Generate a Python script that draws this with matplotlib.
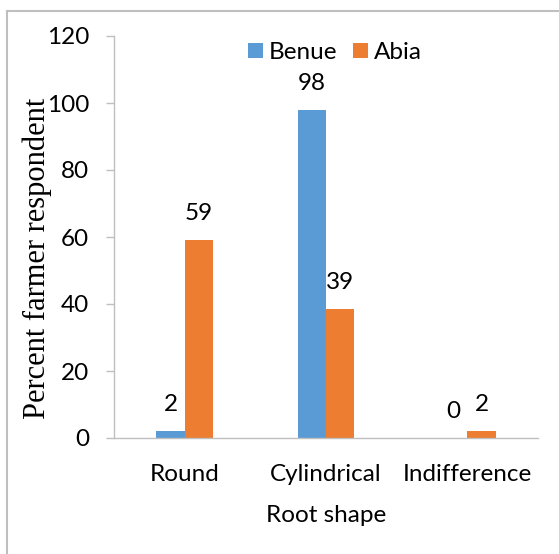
import matplotlib
matplotlib.use("Agg")
import matplotlib.pyplot as plt
from matplotlib.lines import Line2D
import numpy as np

categories = ["Round", "Cylindrical", "Indifference"]
series_names = ["Benue", "Abia"]
benue = [2, 98, 0]
abia = [59, 38.6, 2]
yticks = [0, 20, 40, 60, 80, 100, 120]
xlabel = "Root shape"
ylabel = "Percent farmer respondent"

colors = ["#5B9BD5", "#ED7D31"]
sans = ["Lato", "DejaVu Sans"]
serif = ["Liberation Serif", "DejaVu Serif"]
fs = 17.5

W, H = 559, 554
fig = plt.figure(figsize=(W / 100, H / 100), dpi=100)
ax = fig.add_axes([114 / W, 1 - 438 / H, (538 - 114) / W, (438 - 36) / H])

x = np.arange(len(categories))
bw = 0.2
for i, (vals, name) in enumerate(zip([benue, abia], series_names)):
    ax.bar(x + (i - 0.5) * bw, vals, width=bw, color=colors[i], label=name,
           edgecolor="none")
    for xi, v in zip(x + (i - 0.5) * bw, vals):
        ax.annotate(f"{v:.0f}", (xi, v), xytext=(0, 19), textcoords="offset points",
                    ha="center", va="center", fontsize=fs, family=sans, color="black")

ax.set_xlim(-0.5, 2.5)
ax.set_ylim(0, 120)
ax.set_yticks(yticks)
ax.set_xticks(x)
ax.set_xticklabels(categories, family=sans, fontsize=fs)
ax.set_yticklabels([str(t) for t in yticks], family=sans, fontsize=fs)
ax.tick_params(axis="x", length=0, pad=19)
ax.tick_params(axis="y", length=5.8, width=1, color="#BFBFBF", pad=12)

for s in ["top", "right"]:
    ax.spines[s].set_visible(False)
for s in ["left", "bottom"]:
    ax.spines[s].set_color("#BFBFBF")
    ax.spines[s].set_linewidth(1)

ax.set_xlabel(xlabel, family=sans, fontsize=fs, labelpad=14)
fig.text(37 / W, 1 - 258 / H, ylabel, rotation=90, ha="center", va="center",
         family=serif, fontsize=22)

ax.legend(loc="center", bbox_to_anchor=((335 - 114) / 424, (438 - 52.5) / 402),
          ncol=2, frameon=False, prop={"family": sans, "size": fs},
          handlelength=0.62, handleheight=0.62, handletextpad=0.25,
          columnspacing=0.65, borderpad=0)

# outer chart border (left and top edges)
fig.add_artist(Line2D([6.5 / W, 6.5 / W], [0, 1 - 11 / H], color="#BFBFBF", lw=1.5,
                      transform=fig.transFigure))
fig.add_artist(Line2D([6.5 / W, 1], [1 - 11 / H, 1 - 11 / H], color="#BFBFBF", lw=1.5,
                      transform=fig.transFigure))

fig.savefig("out.png", dpi=100)
